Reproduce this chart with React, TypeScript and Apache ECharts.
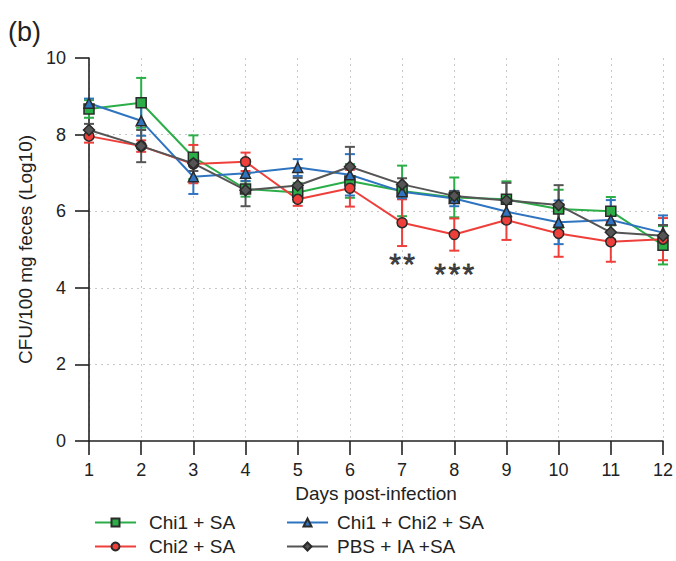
import React, { useEffect, useRef } from "react";
import * as echarts from "echarts";

const days = [1, 2, 3, 4, 5, 6, 7, 8, 9, 10, 11, 12];
const seriesNames = ["Chi1 + SA", "Chi2 + SA", "Chi1 + Chi2 + SA", "PBS + IA +SA"];
const chi1Mean = [8.67, 8.83, 7.41, 6.58, 6.49, 6.79, 6.53, 6.36, 6.31, 6.06, 6.0, 5.11];
const chi1Err = [0.23, 0.65, 0.57, 0.2, 0.25, 0.44, 0.66, 0.52, 0.47, 0.5, 0.37, 0.5];
const chi2Mean = [7.96, 7.7, 7.23, 7.29, 6.31, 6.6, 5.7, 5.39, 5.77, 5.42, 5.2, 5.27];
const chi2Err = [0.17, 0.15, 0.5, 0.24, 0.17, 0.48, 0.61, 0.42, 0.52, 0.61, 0.52, 0.55];
const chi12Mean = [8.82, 8.36, 6.9, 6.99, 7.14, 6.95, 6.51, 6.33, 5.99, 5.71, 5.77, 5.44];
const chi12Err = [0.12, 0.39, 0.45, 0.2, 0.22, 0.54, 0.17, 0.2, 0.3, 0.57, 0.52, 0.45];
const pbsMean = [8.12, 7.7, 7.25, 6.55, 6.67, 7.16, 6.7, 6.4, 6.28, 6.16, 5.45, 5.36];
const pbsErr = [0.16, 0.42, 0.2, 0.42, 0.2, 0.52, 0.16, 0.12, 0.46, 0.52, 0.2, 0.28];
const sigDays = [7, 8];
const sigValues = [4.63, 4.38];
const sigTexts = ["*\u200A*", "*\u200A*\u200A*"];

const FONT = "'Liberation Sans', Arial, Helvetica, sans-serif";
const TXT = "#222";

const groups = [
  { name: seriesNames[0], mean: chi1Mean, err: chi1Err, color: "#2BAE48", symbol: "rect" },
  { name: seriesNames[1], mean: chi2Mean, err: chi2Err, color: "#EE3F3A", symbol: "circle" },
  { name: seriesNames[2], mean: chi12Mean, err: chi12Err, color: "#2F74C0", symbol: "triangle" },
  { name: seriesNames[3], mean: pbsMean, err: pbsErr, color: "#555555", symbol: "diamond" },
];

function errorSeries(mean: number[], err: number[], color: string) {
  return {
    type: "custom",
    silent: true,
    z: 2,
    data: days.map((d, i) => [d, mean[i] - err[i], mean[i] + err[i]]),
    encode: { x: 0, y: [1, 2] },
    renderItem: (_params: any, api: any) => {
      const x = api.value(0);
      const lo = api.coord([x, api.value(1)]);
      const hi = api.coord([x, api.value(2)]);
      const w = 5;
      const st = { stroke: color, lineWidth: 2 };
      return {
        type: "group",
        children: [
          { type: "line", shape: { x1: lo[0], y1: lo[1], x2: hi[0], y2: hi[1] }, style: st },
          { type: "line", shape: { x1: lo[0] - w, y1: lo[1], x2: lo[0] + w, y2: lo[1] }, style: st },
          { type: "line", shape: { x1: hi[0] - w, y1: hi[1], x2: hi[0] + w, y2: hi[1] }, style: st },
        ],
      };
    },
  };
}

function legendItem(name: string, left: number, top: number, gap: number) {
  return {
    data: [name],
    orient: "horizontal",
    left,
    top,
    padding: 0,
    itemWidth: 41,
    itemHeight: 10,
    textStyle: { fontSize: 19, color: TXT, fontFamily: FONT, padding: [0, 0, 0, gap] },
  };
}

export default function App() {
  const ref = useRef<HTMLDivElement>(null);
  useEffect(() => {
    if (!ref.current) return;
    const chart = echarts.init(ref.current, undefined, { renderer: "svg" });
    const grid = "#c8c8c8";
    const series: any[] = [];
    groups.forEach((g) => series.push(errorSeries(g.mean, g.err, g.color)));
    groups.forEach((g) =>
      series.push({
        type: "line",
        name: g.name,
        z: 3,
        data: days.map((d, i) => [d, g.mean[i]]),
        symbol: g.symbol,
        symbolSize: g.symbol === "diamond" ? 11 : 10,
        lineStyle: { color: g.color, width: 2 },
        itemStyle: { color: g.color, borderColor: "#2a2a2a", borderWidth: 1.5 },
      })
    );
    series.push({
      type: "scatter",
      silent: true,
      symbolSize: 0,
      z: 4,
      data: sigDays.map((d, i) => [d, sigValues[i], sigTexts[i]]),
      label: {
        show: true,
        position: "inside",
        formatter: (p: any) => p.data[2],
        fontSize: 30,
        fontFamily: FONT,
        color: "#1a1a1a",
        textBorderColor: "#1a1a1a",
        textBorderWidth: 0.8,
      },
    });
    chart.setOption({
      animation: false,
      textStyle: { fontFamily: FONT },
      grid: { left: 89, right: 9, top: 58, bottom: 120, containLabel: false },
      graphic: [
        {
          type: "text",
          left: 8,
          top: 18,
          style: { text: "(b)", fontSize: 27, fontFamily: FONT, fill: TXT },
        },
      ],
      legend: [
        legendItem(seriesNames[0], 94, 513, 8),
        legendItem(seriesNames[1], 94, 537, 8),
        legendItem(seriesNames[2], 286, 513, 4),
        legendItem(seriesNames[3], 286, 537, 4),
      ],
      xAxis: {
        type: "value",
        min: 1,
        max: 12,
        interval: 1,
        name: "Days post-infection",
        nameLocation: "middle",
        nameGap: 40,
        nameTextStyle: { fontSize: 19, color: TXT, fontFamily: FONT },
        axisLine: { lineStyle: { color: "#222", width: 1.6 } },
        axisTick: { show: true, length: 14, lineStyle: { color: "#222", width: 1.6 } },
        axisLabel: { fontSize: 18, color: TXT, margin: 20, fontFamily: FONT },
        splitLine: { show: true, lineStyle: { color: grid, type: [2, 4], width: 1 } },
      },
      yAxis: {
        type: "value",
        min: 0,
        max: 10,
        interval: 2,
        name: "CFU/100 mg feces (Log10)",
        nameLocation: "middle",
        nameGap: 44,
        nameTextStyle: { fontSize: 19, color: TXT, fontFamily: FONT },
        axisLine: { show: true, lineStyle: { color: "#222", width: 1.6 } },
        axisTick: { show: true, length: 14, lineStyle: { color: "#222", width: 1.6 } },
        axisLabel: { fontSize: 18, color: TXT, margin: 23, fontFamily: FONT },
        splitLine: {
          show: true,
          lineStyle: {
            color: ["rgba(0,0,0,0)", grid, grid, grid, grid, "rgba(0,0,0,0)"],
            type: [2, 4],
            width: 1,
          },
        },
      },
      series,
    });
    return () => chart.dispose();
  }, []);
  return (
    <div
      ref={ref}
      style={{ position: "fixed", left: 0, top: 0, width: 676, height: 561, background: "#fff" }}
    />
  );
}
